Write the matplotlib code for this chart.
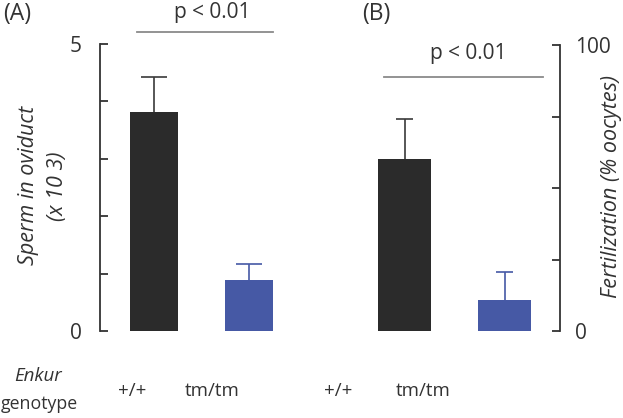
#!/usr/bin/env python3

import numpy as np
import matplotlib
matplotlib.use('Agg')
from matplotlib import pyplot as plt

# data
genotypes = ['+/+', 'tm/tm']
sperm_mean = [3.81, 0.89]      # x 10^3
sperm_err = [0.61, 0.28]
fert_mean = [60.1, 10.8]       # % oocytes
fert_err = [14.0, 9.8]
p_text = 'p < 0.01'

bar_colors = ['#2b2b2b', '#4659a5']
err_colors = ['#3a3a3a', '#4659a5']
axis_color = '#333333'
text_color = '#333333'
sig_color = '#8a8a8a'

plt.rcParams['font.family'] = ['Open Sans', 'DejaVu Sans']
plt.rcParams['font.size'] = 15

W, H = 623, 418
fig = plt.figure(figsize=(W / 100, H / 100), dpi=100)

def px_axes(x0, x1, ytop, ybot):
    return fig.add_axes([x0 / W, (H - ybot) / H, (x1 - x0) / W, (ybot - ytop) / H])

def style(ax, side, pad):
    for s in ['top', 'bottom', 'left', 'right']:
        ax.spines[s].set_visible(False)
    ax.spines[side].set_visible(True)
    ax.spines[side].set_color(axis_color)
    ax.spines[side].set_linewidth(1.3)
    ax.set_xticks([])
    ax.tick_params(axis='y', direction='in', length=6, width=1.3, color=axis_color,
                   labelsize=15, labelcolor=text_color, pad=pad)
    if side == 'right':
        ax.yaxis.tick_right()
        ax.yaxis.set_label_position('right')

def bars(ax, means, errs, width, cap):
    x = np.arange(len(means))
    ax.bar(x, means, width=width, color=bar_colors, edgecolor='none', zorder=2)
    tops = np.array(means) + np.array(errs)
    ax.vlines(x, means, tops, colors=err_colors, lw=1.2, zorder=1)
    ax.hlines(tops, x - cap, x + cap, colors=err_colors, lw=1.2, zorder=1)

# panel A
axA = px_axes(100, 300, 44, 331)
style(axA, 'left', 13)
bars(axA, sperm_mean, sperm_err, 0.505, 0.14)
axA.set_xlim(-0.568, 1.537)
axA.set_ylim(0, 5)
axA.set_yticks([0, 1, 2, 3, 4, 5])
axA.set_yticklabels(['0', '', '', '', '', '5'])
axA.plot([-0.179, 1.253], [5.21, 5.21], color=sig_color, lw=1.3, clip_on=False)
axA.text(0.61, 5.55, p_text, ha='center', va='center', fontsize=15, color=text_color,
         clip_on=False)

# panel B
axB = px_axes(360, 560, 45, 331)
style(axB, 'right', 11)
bars(axB, fert_mean, fert_err, 0.53, 0.085)
axB.set_xlim(-0.445, 1.555)
axB.set_ylim(0, 100)
axB.set_yticks([0, 25, 50, 75, 100])
axB.set_yticklabels(['0', '', '', '', '100'])
axB.plot([-0.205, 1.385], [88.8, 88.8], color=sig_color, lw=1.3, clip_on=False)
axB.text(0.635, 97.2, p_text, ha='center', va='center', fontsize=15, color=text_color,
         clip_on=False)

# axis titles
fig.text(29 / W, 1 - 185 / H, 'Sperm in oviduct', rotation=90, ha='center', va='center',
         style='italic', fontsize=15.5, color=text_color)
fig.text(58 / W, 1 - 186 / H, '(x 10 3)', rotation=90, ha='center', va='center',
         style='italic', fontsize=15.5, color=text_color)
fig.text(612 / W, 1 - 187 / H, 'Fertilization (% oocytes)', rotation=90, ha='center',
         va='center', style='italic', fontsize=15.5, color=text_color)

# panel letters
fig.text(3 / W, 1 - 14 / H, '(A)', ha='left', va='center', fontsize=16.5, color=text_color)
fig.text(362 / W, 1 - 14 / H, '(B)', ha='left', va='center', fontsize=16.5, color=text_color)

# genotype row
fig.text(38 / W, 1 - 376 / H, 'Enkur', ha='center', va='center', style='italic',
         fontsize=13.5, color=text_color)
fig.text(39 / W, 1 - 404 / H, 'genotype', ha='center', va='center', fontsize=12.8,
         color=text_color)
for xc, g in zip([132, 212], genotypes):
    fig.text(xc / W, 1 - 391 / H, g, ha='center', va='center', fontsize=13.5, color=text_color)
for xc, g in zip([338, 423], genotypes):
    fig.text(xc / W, 1 - 391 / H, g, ha='center', va='center', fontsize=13.5, color=text_color)

plt.savefig('out.png', dpi=100)
